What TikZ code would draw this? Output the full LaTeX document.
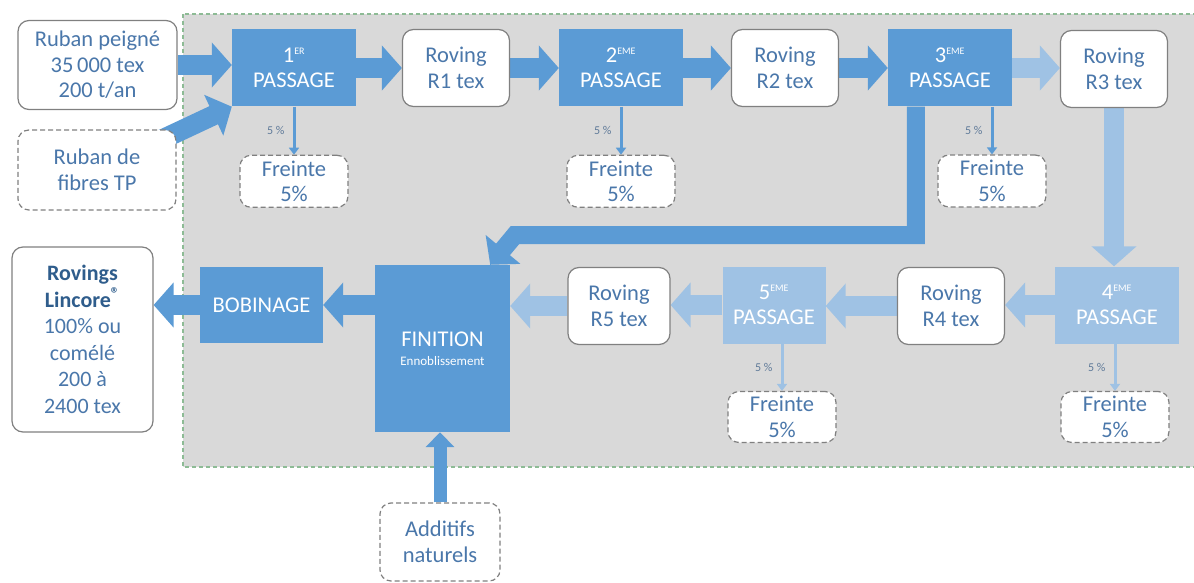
\documentclass[tikz,border=0pt]{standalone}
\usepackage{fontspec}
\setmainfont{Carlito}
\usetikzlibrary{positioning, arrows.meta, backgrounds}

\definecolor{procblue}{HTML}{5B9BD5}
\definecolor{paleblue}{HTML}{9FC2E4}
\definecolor{textblue}{HTML}{4A77AA}
\definecolor{darkblue}{HTML}{2F5D8C}
\definecolor{framegray}{HTML}{808080}
\definecolor{zonegray}{HTML}{D9D9D9}
\definecolor{zonegreen}{HTML}{8DBB95}

\begin{document}
\begin{tikzpicture}[
    x=1pt, y=-1pt,
    every node/.style={align=center, inner sep=0pt},
    txt/.style={font=\fontsize{22.5}{25.5}\selectfont},
    inbox/.style={txt, rectangle, draw=framegray, line width=1.2pt,
                  rounded corners=11pt, fill=white, text=textblue},
    optbox/.style={inbox, dash pattern=on 5pt off 3pt},
    roving/.style={inbox, minimum width=107pt, minimum height=77pt},
    waste/.style={optbox, minimum width=108pt, minimum height=52pt},
    passage/.style={txt, rectangle, fill=procblue, text=white,
                    minimum width=124pt, minimum height=77pt},
    passlight/.style={passage, fill=paleblue},
    pct/.style={font=\fontsize{12}{12}\selectfont, text=textblue!60!gray},
    flow/.style={line width=20pt, draw=procblue,
                 -{Triangle[length=20pt, width=44pt]}},
    flowlight/.style={flow, draw=paleblue},
    loss/.style={line width=3pt, draw=procblue,
                 -{Triangle[length=7pt, width=10pt]}},
    losslight/.style={loss, draw=paleblue}
]
  \useasboundingbox (0,0) rectangle (1194,583);

  % Inputs
  \node[inbox, minimum width=159pt, minimum height=89pt] (peigne) at (97.5,65)
    {Ruban peigné\\35\,000 tex\\200 t/an};
  \node[optbox, minimum width=158pt, minimum height=80pt] (fibres) at (97,170)
    {Ruban de\\fibres TP};

  % First row of passages
  \node[passage] (p1) at (294,68)
    {1\textsuperscript{\fontsize{10}{10}\selectfont ER}\\PASSAGE};
  \node[roving] (r1) at (456,68) {Roving\\R1 tex};
  \node[passage] (p2) at (621,68)
    {2\textsuperscript{\fontsize{10}{10}\selectfont EME}\\PASSAGE};
  \node[roving] (r2) at (785,68) {Roving\\R2 tex};
  \node[passage] (p3) at (950,68)
    {3\textsuperscript{\fontsize{10}{10}\selectfont EME}\\PASSAGE};
  \node[roving] (r3) at (1114,69) {Roving\\R3 tex};

  % Losses
  \node[waste, below=48pt of p1] (f1) {Freinte\\5\%};
  \node[waste, below=48pt of p2] (f2) {Freinte\\5\%};
  \node[waste] (f3) at (992,181) {Freinte\\5\%};

  % Second row of passages
  \node[passlight] (p4) at (1117,305)
    {4\textsuperscript{\fontsize{10}{10}\selectfont EME}\\PASSAGE};
  \node[roving] (r4) at (951,306) {Roving\\R4 tex};
  \node[passlight, minimum width=103pt] (p5) at (774,305)
    {5\textsuperscript{\fontsize{10}{10}\selectfont EME}\\PASSAGE};
  \node[roving, minimum width=102pt] (r5) at (619,306) {Roving\\R5 tex};
  \node[waste, minimum height=51pt] (f4) at (1115,417) {Freinte\\5\%};
  \node[waste, minimum height=51pt] (f5) at (782,417) {Freinte\\5\%};

  % Finishing and output
  \node[passage, minimum width=135pt, minimum height=167pt] (fin) at (442.5,348.5)
    {FINITION\\[-6pt]{\fontsize{13}{13}\selectfont Ennoblissement}};
  \node[passage, minimum width=123pt, minimum height=76pt] (bob) at (261.5,305)
    {BOBINAGE};
  \node[inbox, minimum width=141pt, minimum height=185pt,
        font=\fontsize{22}{26.5}\selectfont] (lincore) at (82.5,339.5)
    {\textbf{\color{darkblue}Rovings}\\
     \textbf{\color{darkblue}Lincore\textsuperscript{\fontsize{17}{17}\selectfont ®}}\\
     100\% ou\\comélé\\200 à\\2400 tex};
  \node[optbox, minimum width=120pt, minimum height=78pt] (additifs) at (440,542)
    {Additifs\\naturels};

  \coordinate (turn) at (515,235);

  \begin{scope}[on background layer]
    % Process zone
    \draw[zonegreen, fill=zonegray, line width=2pt, dash pattern=on 4pt off 3pt]
      (183,14) rectangle (1210,467);

    % Arrows
    \draw[flow] (peigne.east) -- (peigne.east -| p1.west);
    \draw[flow] (fibres.center) -- (p1.south west);
    \draw[flow] (p1.east) -- (r1.west);
    \draw[flow] (r1.east) -- (p2.west);
    \draw[flow] (p2.east) -- (r2.west);
    \draw[flow] (r2.east) -- (p3.west);
    \draw[flowlight] (p3.east) -- (p3.east -| r3.west);
    \draw[flowlight] (r3.south) -- (r3.south |- p4.north);
    \draw[flowlight] (p4.west) -- (p4.west -| r4.east);
    \draw[flowlight] (r4.west) -- (r4.west -| p5.east);
    \draw[flowlight] (p5.west) -- (p5.west -| r5.east);
    \draw[flowlight] (r5.west) -- (r5.west -| fin.east);
    \draw[flow, line width=18pt] ([xshift=28pt]p3.south west) |- (turn)
      -- ([xshift=-20pt]fin.north east);
    \draw[flow] (fin.west |- bob.east) -- (bob.east);
    \draw[flow] (bob.west) -- (bob.west -| lincore.east);
    \draw[flow, line width=13pt, -{Triangle[length=15pt, width=28pt]}]
      (additifs.north) -- (additifs.north |- fin.south);

    % Losses
    \draw[loss] (p1.south) -- node[pct, left=8pt] (c1) {5~\%} (f1.north);
    \draw[loss] (p2.south) -- node[pct, left=8pt] (c2) {5~\%} (f2.north);
    \draw[loss] (p3.south -| f3.north) -- node[pct, left=8pt] (c3) {5~\%} (f3.north);
    \draw[losslight] (p4.south -| f4.north) -- node[pct, left=8pt] (c4) {5~\%} (f4.north);
    \draw[losslight] (p5.south -| f5.north) -- node[pct, left=8pt] (c5) {5~\%} (f5.north);
  \end{scope}
\end{tikzpicture}
\end{document}
